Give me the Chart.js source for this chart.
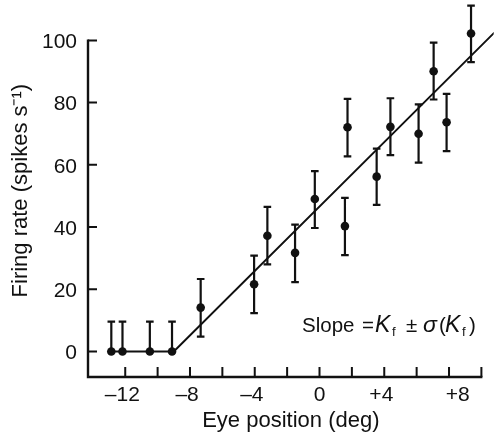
<!DOCTYPE html>
<html>
<head>
<meta charset="utf-8">
<script src="https://cdn.jsdelivr.net/npm/chart.js@4/dist/chart.umd.min.js"></script>
<style>
  html, body { margin: 0; padding: 0; background: #fff; }
  canvas { display: block; }
</style>
</head>
<body>
<canvas id="rateChart" width="498" height="432"></canvas>
<script>
// firing rate vs eye position, with error bars and a piecewise-linear fit
const eyePos     = [-12.86, -12.17, -10.48, -9.11, -7.34, -4.04, -3.22, -1.51, -0.29, 1.57, 1.73, 3.53, 4.38, 6.12, 7.05, 7.85, 9.36];
const firingRate = [0, 0, 0, 0, 14.1, 21.6, 37.2, 31.7, 49.0, 40.3, 72.1, 56.2, 72.2, 70.0, 90.1, 73.7, 102.2];
const errUp      = [9.6, 9.6, 9.6, 9.6, 9.2, 9.2, 9.3, 9.1, 9.0, 9.1, 9.1, 9.0, 9.2, 9.4, 9.2, 9.1, 9.0];
const errDown    = [0, 0, 0, 0, 9.3, 9.3, 9.2, 9.4, 9.3, 9.3, 9.4, 9.1, 9.1, 9.3, 9.1, 9.3, 9.2];

const fitX = [-12.86, -9.0, 10.8];
const fitY = [0, 0, 102.5];

const xLabelTicks = [-12, -8, -4, 0, 4, 8];
const xLabels     = ['\u201312 ', '\u20138 ', '\u20134 ', '0', '+4 ', '   +8'];
const xMarkTicks  = [-12, -10, -8, -6, -4, -2, 0, 2, 4, 6, 8, 10];
const yTicks      = [0, 20, 40, 60, 80, 100];

const ink = '#111';
const family = '"Liberation Sans", Arial, sans-serif';

// axis lines with inward tick marks, stopping at the last tick
const framePlugin = {
  id: 'frame',
  afterDatasetsDraw(chart) {
    const { ctx, chartArea, scales: { x, y } } = chart;
    const left = chartArea.left, bottom = chartArea.bottom;
    ctx.save();
    ctx.strokeStyle = ink;
    ctx.lineWidth = 2.4;
    ctx.lineCap = 'butt';
    ctx.beginPath();
    ctx.moveTo(left, y.getPixelForValue(yTicks[yTicks.length - 1]) - 1);
    ctx.lineTo(left, bottom);
    ctx.lineTo(x.getPixelForValue(xMarkTicks[xMarkTicks.length - 1]) + 1, bottom);
    ctx.stroke();
    ctx.lineWidth = 2;
    ctx.beginPath();
    yTicks.forEach(v => {
      const py = y.getPixelForValue(v);
      ctx.moveTo(left, py);
      ctx.lineTo(left + 9, py);
    });
    xMarkTicks.forEach(v => {
      const px = x.getPixelForValue(v);
      ctx.moveTo(px, bottom);
      ctx.lineTo(px, bottom - 10);
    });
    ctx.stroke();

    // slope annotation: Slope = K_f ± σ(K_f)
    const by = 332;
    const reg = '20.5px ' + family;
    const ita = 'italic 23px ' + family;
    const sig = 'italic 23px ' + family;
    const sub = '13px ' + family;
    const pieces = [
      ['Slope', reg, 302, 0],
      ['=', reg, 362, 0],
      ['K', ita, 375, 0],
      ['f', sub, 392, 4],
      ['\u00b1', reg, 406, 0],
      ['\u03c3', sig, 423, 0],
      ['(', reg, 439, 0],
      ['K', ita, 445, 0],
      ['f', sub, 462, 4],
      [')', reg, 469, 0]
    ];
    ctx.fillStyle = ink;
    ctx.textBaseline = 'alphabetic';
    pieces.forEach(([txt, f, px, dy]) => {
      ctx.font = f;
      ctx.fillText(txt, px, by + dy);
    });
    ctx.restore();
  }
};

// vertical error bars with caps
const errorBarPlugin = {
  id: 'errorBars',
  beforeDatasetsDraw(chart) {
    const { ctx, scales: { x, y } } = chart;
    ctx.save();
    ctx.strokeStyle = ink;
    ctx.lineWidth = 2.2;
    ctx.beginPath();
    eyePos.forEach((ex, i) => {
      const px = x.getPixelForValue(ex);
      const top = y.getPixelForValue(firingRate[i] + errUp[i]);
      const bot = y.getPixelForValue(firingRate[i] - errDown[i]);
      ctx.moveTo(px, top);
      ctx.lineTo(px, bot);
      ctx.moveTo(px - 3.8, top);
      ctx.lineTo(px + 3.8, top);
      if (errDown[i] > 0) {
        ctx.moveTo(px - 3.8, bot);
        ctx.lineTo(px + 3.8, bot);
      }
    });
    ctx.stroke();
    ctx.restore();
  }
};

const tickFont = { family: family, size: 21 };
const titleFont = { family: family, size: 22, lineHeight: 1 };

new Chart(document.getElementById('rateChart'), {
  type: 'scatter',
  data: {
    datasets: [
      {
        type: 'line',
        data: fitX.map((v, i) => ({ x: v, y: fitY[i] })),
        borderColor: ink,
        borderWidth: 2,
        pointRadius: 0,
        tension: 0
      },
      {
        data: eyePos.map((v, i) => ({ x: v, y: firingRate[i] })),
        backgroundColor: ink,
        borderWidth: 0,
        pointRadius: 4.3
      }
    ]
  },
  options: {
    responsive: false,
    animation: false,
    layout: { padding: 0 },
    plugins: { legend: { display: false }, tooltip: { enabled: false } },
    scales: {
      x: {
        type: 'linear',
        min: -14.3,
        max: 10.76,
        grid: { display: false, drawTicks: false },
        border: { display: false },
        afterBuildTicks: s => { s.ticks = xLabelTicks.map(v => ({ value: v })); },
        afterFit: s => { s.height = 55; s.paddingLeft = 0; s.paddingRight = 0; },
        ticks: {
          font: tickFont,
          color: ink,
          padding: 6,
          maxRotation: 0,
          autoSkip: false,
          callback: (v, i) => xLabels[i]
        },
        title: {
          display: true,
          text: 'Eye position (deg)',
          font: titleFont,
          color: ink,
          padding: { top: 0, bottom: 0.5 }
        }
      },
      y: {
        min: -8.2,
        max: 111.6,
        grid: { display: false, drawTicks: false },
        border: { display: false },
        afterBuildTicks: s => { s.ticks = yTicks.map(v => ({ value: v })); },
        afterFit: s => { s.width = 88; s.paddingTop = 0; s.paddingBottom = 0; },
        ticks: {
          font: tickFont,
          color: ink,
          padding: 11,
          labelOffset: 2,
          autoSkip: false
        },
        title: {
          display: true,
          text: 'Firing rate (spikes s\u207b\u00b9)',
          font: titleFont,
          color: ink,
          padding: { top: 9.5, bottom: 0 }
        }
      }
    }
  },
  plugins: [errorBarPlugin, framePlugin]
});
</script>
</body>
</html>
